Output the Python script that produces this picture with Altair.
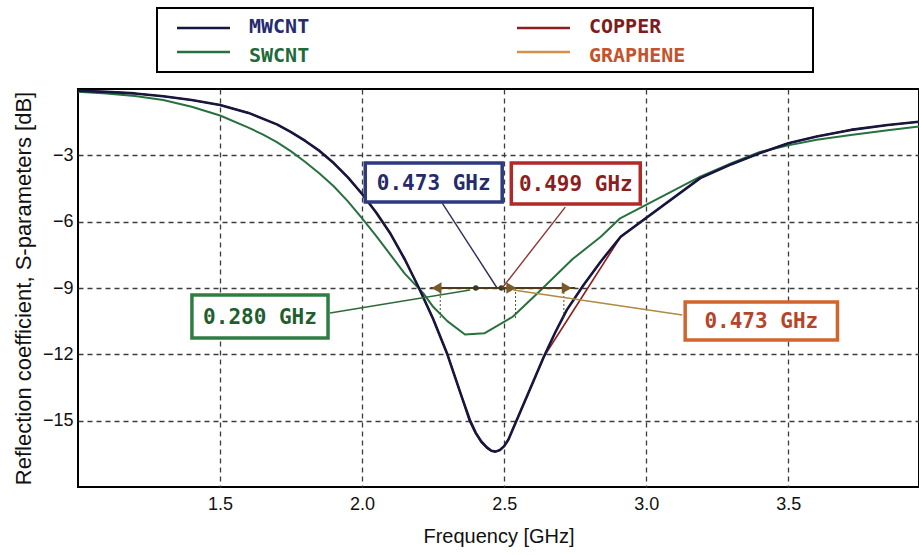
import altair as alt
import pandas as pd

# ---------------- data ----------------
freq_mwcnt = [1.0, 1.1, 1.2, 1.3, 1.4, 1.5, 1.6, 1.7, 1.75, 1.8, 1.85, 1.9, 1.95, 2.0, 2.05,
              2.1, 2.15, 2.2, 2.25, 2.3, 2.35, 2.38, 2.40, 2.42, 2.44, 2.455, 2.47, 2.485,
              2.50, 2.515, 2.53, 2.55, 2.59, 2.64, 2.68, 2.72, 2.78, 2.84, 2.91, 3.19, 3.3,
              3.4, 3.5, 3.6, 3.72, 3.85, 3.96]
db_mwcnt = [-0.08, -0.13, -0.2, -0.33, -0.5, -0.72, -1.08, -1.6, -1.95, -2.35, -2.8, -3.35,
            -4.0, -4.75, -5.6, -6.55, -7.7, -9.0, -10.4, -12.0, -13.9, -15.0, -15.55, -15.95,
            -16.22, -16.36, -16.4, -16.33, -16.15, -15.85, -15.4, -14.8, -13.6, -12.1, -11.0,
            -10.0, -8.85, -7.8, -6.68, -4.03, -3.4, -2.9, -2.45, -2.15, -1.85, -1.63, -1.48]

freq_copper = [1.0, 1.1, 1.2, 1.3, 1.4, 1.5, 1.6, 1.7, 1.75, 1.8, 1.85, 1.9, 1.95, 2.0, 2.05,
               2.1, 2.15, 2.2, 2.25, 2.3, 2.35, 2.377, 2.40, 2.42, 2.44, 2.455, 2.47, 2.485,
               2.50, 2.515, 2.53, 2.55, 2.59, 2.64, 2.91, 3.19, 3.3, 3.4, 3.5, 3.6, 3.72,
               3.85, 3.96]
db_copper = [-0.08, -0.13, -0.2, -0.33, -0.5, -0.72, -1.08, -1.6, -1.95, -2.35, -2.8, -3.35,
             -4.0, -4.75, -5.6, -6.55, -7.7, -9.0, -10.4, -12.0, -13.9, -15.0, -15.6, -16.0,
             -16.25, -16.38, -16.4, -16.33, -16.15, -15.85, -15.4, -14.8, -13.6, -12.1, -6.68,
             -4.03, -3.4, -2.9, -2.45, -2.15, -1.85, -1.63, -1.48]

freq_graphene = freq_mwcnt
db_graphene = [-0.08, -0.13, -0.2, -0.33, -0.5, -0.72, -1.08, -1.6, -1.95, -2.35, -2.8, -3.35,
               -4.0, -4.75, -5.6, -6.55, -7.7, -9.0, -10.4, -12.0, -13.9, -15.0, -15.55, -15.95,
               -16.22, -16.36, -16.4, -16.33, -16.15, -15.85, -15.4, -14.8, -13.6, -12.1, -11.0,
               -10.0, -8.85, -7.8, -6.68, -4.03, -3.4, -2.9, -2.45, -2.15, -1.85, -1.63, -1.48]

freq_swcnt = [1.0, 1.1, 1.2, 1.3, 1.4, 1.5, 1.6, 1.65, 1.7, 1.75, 1.8, 1.85, 1.9, 1.95, 2.0,
              2.05, 2.1, 2.15, 2.215, 2.25, 2.3, 2.362, 2.43, 2.53, 2.62, 2.74, 2.84, 2.908,
              3.19, 3.3, 3.4, 3.5, 3.6, 3.72, 3.85, 3.96]
db_swcnt = [-0.12, -0.2, -0.32, -0.5, -0.8, -1.2, -1.75, -2.05, -2.4, -2.82, -3.3, -3.82,
            -4.4, -5.08, -5.85, -6.65, -7.5, -8.35, -9.23, -9.85, -10.5, -11.1, -11.05, -10.3,
            -9.2, -7.7, -6.68, -5.85, -3.96, -3.35, -2.85, -2.55, -2.3, -2.08, -1.87, -1.7]

series_names = ["MWCNT", "COPPER", "SWCNT", "GRAPHENE"]

# annotation boxes (data units)
box_labels = ["0.473 GHz", "0.499 GHz", "0.473 GHz", "0.280 GHz"]
box_x1 = [2.011, 2.525, 3.137, 1.401]
box_x2 = [2.493, 2.979, 3.673, 1.880]
box_y1 = [-3.35, -3.35, -9.63, -9.32]
box_y2 = [-5.11, -5.20, -11.35, -11.26]
lead_x1 = [2.282, 2.715, 3.127, 1.887]
lead_y1 = [-5.16, -5.34, -10.22, -10.13]
lead_x2 = [2.475, 2.493, 2.532, 2.380]
lead_y2 = [-9.0, -9.0, -9.09, -9.09]

# bandwidth arrow (data units)
arrow_x1 = [2.24]
arrow_x2 = [2.75]
arrow_y = [-9.0]
arrow_left = [2.262]
arrow_right = [2.72, 2.525]
arrow_dots = [2.40, 2.49]
tick_x = [2.275, 2.54, 2.71]

# ---------------- styles ----------------
series_colors = {"MWCNT": "#16163e", "COPPER": "#8e1d1d", "SWCNT": "#27713f", "GRAPHENE": "#d49048"}
series_widths = {"MWCNT": 2.6, "COPPER": 1.6, "SWCNT": 2.0, "GRAPHENE": 1.6}
legend_text_colors = {"MWCNT": "#262a6e", "COPPER": "#7e1c1c", "SWCNT": "#1f6a3a", "GRAPHENE": "#c4532c"}
box_border = ["#2e3a80", "#b02a2a", "#d2642e", "#2f7d45"]
box_text = ["#262a68", "#8b1e1e", "#b5452a", "#1f5e2e"]
lead_color = ["#2e2e5c", "#8b3535", "#b08a40", "#2d6a3a"]

FONT = "Liberation Sans"
MONO = "DejaVu Sans Mono"

xscale = alt.Scale(domain=[1.0, 3.96], nice=False, zero=False)
yscale = alt.Scale(domain=[-18, 0], nice=False, zero=False)
xaxis = alt.Axis(values=[1.5, 2.0, 2.5, 3.0, 3.5], format=".1f", title="Frequency [GHz]",
                 titleFontSize=20)
yaxis = alt.Axis(values=[-3, -6, -9, -12, -15], format="d",
                 title="Reflection coefficient, S-parameters [dB]", titleFontSize=22)


def X(field):
    return alt.X(field, type="quantitative", scale=xscale, axis=xaxis)


def Y(field):
    return alt.Y(field, type="quantitative", scale=yscale, axis=yaxis)


series_data = {
    "MWCNT": (freq_mwcnt, db_mwcnt),
    "COPPER": (freq_copper, db_copper),
    "SWCNT": (freq_swcnt, db_swcnt),
    "GRAPHENE": (freq_graphene, db_graphene),
}

layers = []
for name in ["GRAPHENE", "COPPER", "SWCNT", "MWCNT"]:
    f, d = series_data[name]
    df = pd.DataFrame({"freq": f, "db": d, "series": name})
    layers.append(
        alt.Chart(df).mark_line(color=series_colors[name], strokeWidth=series_widths[name],
                                interpolate="linear", strokeJoin="round")
        .encode(x=X("freq"), y=Y("db"), detail="series:N")
    )

# bandwidth arrow
arrow_df = pd.DataFrame({"x1": arrow_x1, "x2": arrow_x2, "y": arrow_y})
layers.append(alt.Chart(arrow_df).mark_rule(color="#4d3c1c", strokeWidth=2.2)
              .encode(x=X("x1"), x2="x2", y=Y("y")))
ticks_df = pd.DataFrame({"x": tick_x, "y1": [-9.0] * len(tick_x), "y2": [-10.4] * len(tick_x)})
layers.append(alt.Chart(ticks_df).mark_rule(color="#3f5a30", strokeWidth=1, strokeDash=[2, 2])
              .encode(x=X("x"), y=Y("y1"), y2="y2"))
left_df = pd.DataFrame({"x": arrow_left, "y": [-9.0] * len(arrow_left)})
layers.append(alt.Chart(left_df).mark_point(shape="triangle-left", filled=True, size=130,
                                            color="#7a5a2a", opacity=1)
              .encode(x=X("x"), y=Y("y")))
right_df = pd.DataFrame({"x": arrow_right, "y": [-9.0] * len(arrow_right)})
layers.append(alt.Chart(right_df).mark_point(shape="triangle-right", filled=True, size=130,
                                             color="#7a5a2a", opacity=1)
              .encode(x=X("x"), y=Y("y")))
dots_df = pd.DataFrame({"x": arrow_dots, "y": [-9.0] * len(arrow_dots)})
layers.append(alt.Chart(dots_df).mark_point(shape="circle", filled=True, size=30,
                                            color="#3a3a20", opacity=1)
              .encode(x=X("x"), y=Y("y")))

# leader lines
lead_df = pd.DataFrame({"x1": lead_x1, "y1": lead_y1, "x2": lead_x2, "y2": lead_y2, "c": lead_color})
layers.append(alt.Chart(lead_df).mark_rule(strokeWidth=1.4)
              .encode(x=X("x1"), y=Y("y1"), x2="x2", y2="y2",
                      color=alt.Color("c:N", scale=None)))

# annotation boxes
box_df = pd.DataFrame({"label": box_labels, "x1": box_x1, "x2": box_x2, "y1": box_y1, "y2": box_y2,
                       "border": box_border, "tcolor": box_text})
box_df["xc"] = (box_df["x1"] + box_df["x2"]) / 2
box_df["yc"] = (box_df["y1"] + box_df["y2"]) / 2
layers.append(alt.Chart(box_df).mark_rect(fill="white", strokeWidth=3.5)
              .encode(x=X("x1"), x2="x2", y=Y("y1"), y2="y2",
                      stroke=alt.Stroke("border:N", scale=None)))
layers.append(alt.Chart(box_df).mark_text(font=MONO, fontSize=21, fontWeight="bold",
                                          align="center", baseline="middle", dy=1)
              .encode(x=X("xc"), y=Y("yc"), text="label:N",
                      color=alt.Color("tcolor:N", scale=None)))

# legend (drawn above the plot area)
legend_box = alt.Chart(pd.DataFrame({"k": [0]})).mark_rect(
    fill="white", stroke="black", strokeWidth=2
).encode(x=alt.value(79), x2=alt.value(735), y=alt.value(-81), y2=alt.value(-17))
layers.append(legend_box)

legend_pos = {
    "MWCNT": (99, -61, -62),
    "COPPER": (439, -61, -62),
    "SWCNT": (99, -37, -33),
    "GRAPHENE": (439, -37, -33),
}
for name in series_names:
    lx, ly, ty = legend_pos[name]
    one = pd.DataFrame({"series": [name]})
    layers.append(alt.Chart(one).mark_rule(color=series_colors[name], strokeWidth=2.4)
                  .encode(x=alt.value(lx), x2=alt.value(lx + 53), y=alt.value(ly)))
    layers.append(alt.Chart(one).mark_text(font=MONO, fontSize=20, fontWeight="bold",
                                           align="left", baseline="middle",
                                           color=legend_text_colors[name])
                  .encode(x=alt.value(lx + 72), y=alt.value(ty), text="series:N"))

chart = alt.layer(*layers).properties(
    width=841, height=398,
    autosize=alt.AutoSizeParams(type="none"),
    padding={"left": 78, "top": 89, "right": 0, "bottom": 68},
    background="white",
).configure_view(
    stroke="black", strokeWidth=2
).configure_axis(
    domain=False, ticks=False,
    grid=True, gridColor="#3c3c3c", gridDash=[5, 4], gridWidth=1.3,
    labelFont=FONT, labelFontSize=18, labelColor="#111111",
    titleFont=FONT, titleFontWeight="normal", titleColor="#111111",
).configure_axisX(
    labelPadding=8, titlePadding=13
).configure_axisY(
    labelPadding=5, titlePadding=7
)

chart.save("out.html", embed_options={"renderer": "svg", "actions": False})
